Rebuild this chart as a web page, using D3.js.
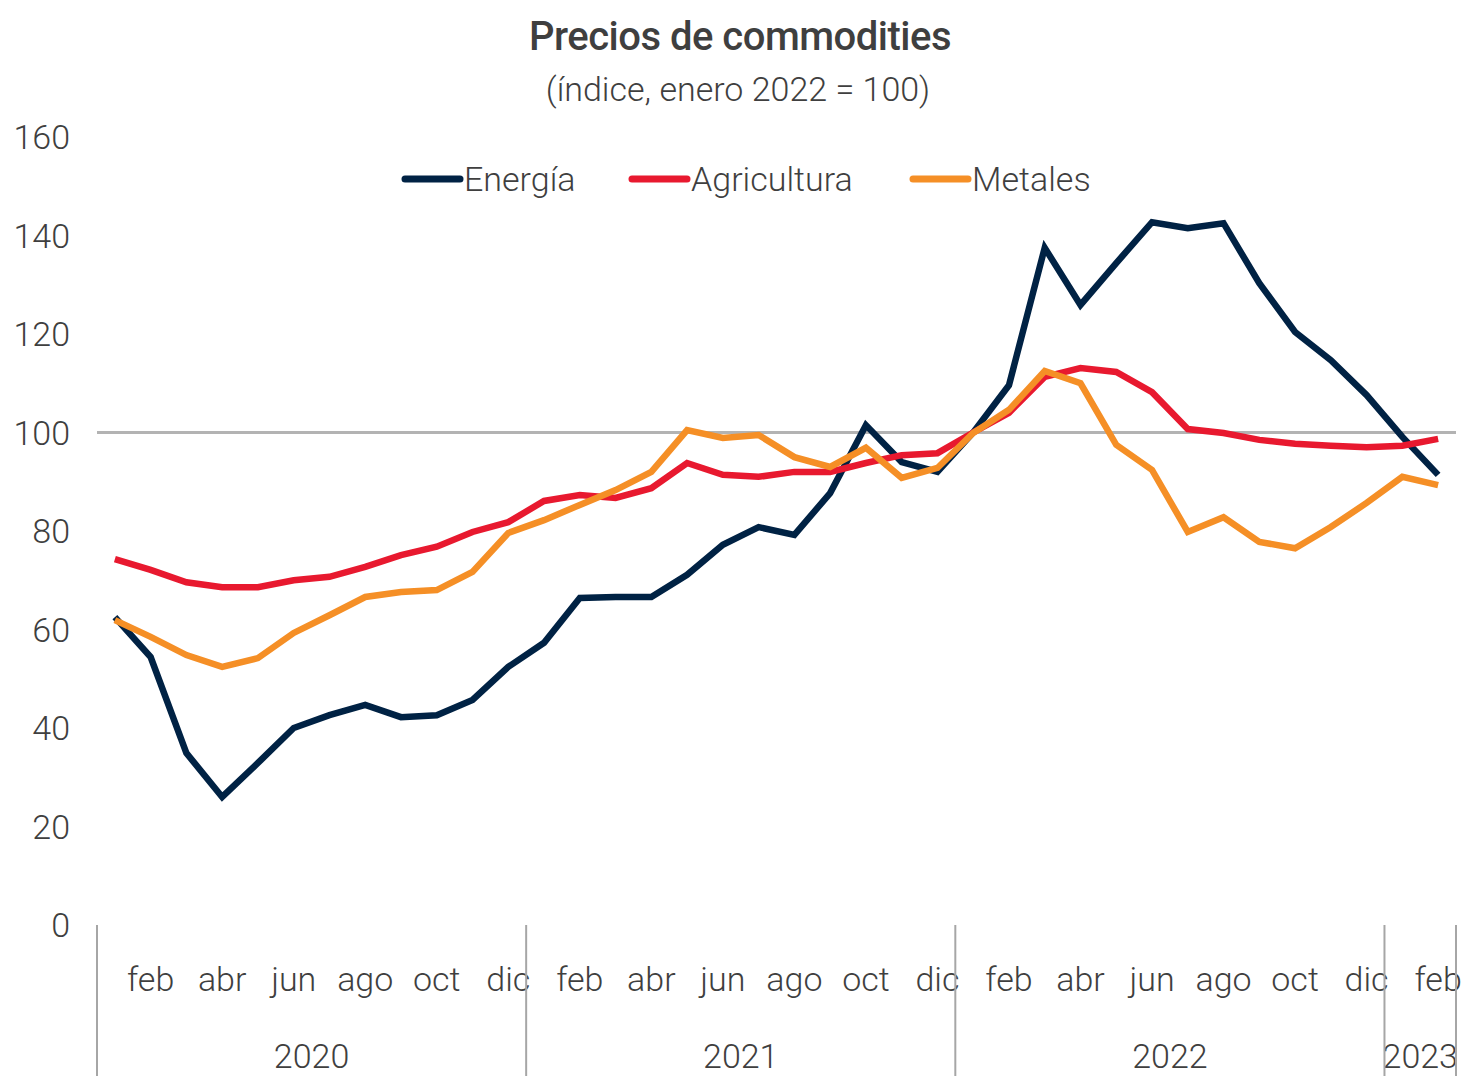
<!DOCTYPE html>
<html>
<head>
<meta charset="utf-8">
<script src="https://cdn.jsdelivr.net/npm/d3@7"></script>
<style>
  body { margin: 0; background: #fff; }
  text { font-family: "Roboto", sans-serif; font-weight: 300; fill: #3f3f3f; }
</style>
</head>
<body>
<div id="chart"></div>
<script>
(function() {
  'use strict';

  // monthly, jan 2020 .. feb 2023
  var monthNames = ['ene', 'feb', 'mar', 'abr', 'may', 'jun', 'jul', 'ago', 'sep', 'oct', 'nov', 'dic'];
  var years = ['2020', '2021', '2022', '2023'];
  var yTicks = [0, 20, 40, 60, 80, 100, 120, 140, 160];

  var energia = [62.5, 54.4, 34.9, 26.0, 32.9, 40.0, 42.6, 44.7, 42.2, 42.6, 45.7, 52.4,
    57.3, 66.4, 66.6, 66.6, 71.1, 77.2, 80.8, 79.2, 87.7, 101.5, 94.0, 92.0,
    100.0, 109.6, 137.5, 125.9, 134.4, 142.7, 141.5, 142.5, 130.3, 120.4, 114.7, 107.6,
    99.1, 91.4];
  var agricultura = [74.3, 72.1, 69.6, 68.6, 68.6, 70.0, 70.7, 72.7, 75.1, 76.8, 79.8, 81.8,
    86.1, 87.3, 86.7, 88.7, 93.8, 91.4, 91.0, 92.0, 92.0, 93.8, 95.4, 95.8,
    100.0, 104.0, 111.3, 113.1, 112.3, 108.2, 100.7, 99.9, 98.5, 97.7, 97.3, 97.0,
    97.3, 98.7];
  var metales = [61.9, 58.5, 54.8, 52.4, 54.2, 59.3, 62.9, 66.6, 67.6, 68.0, 71.7, 79.6,
    82.2, 85.3, 88.3, 92.0, 100.5, 98.9, 99.5, 95.0, 93.0, 96.9, 90.8, 92.8,
    99.9, 104.6, 112.5, 110.0, 97.5, 92.4, 79.8, 82.8, 77.8, 76.5, 80.8, 85.7,
    91.0, 89.3];

  var series = [
    { name: 'Energía', values: energia, color: '#002244' },
    { name: 'Agricultura', values: agricultura, color: '#e8192f' },
    { name: 'Metales', values: metales, color: '#f58f26' }
  ];

  var width = 1482, height = 1076;
  var left = 97, right = 1456, top = 137, bottom = 925;

  var months = d3.range(energia.length);

  var x = d3.scaleBand()
    .domain(months)
    .range([left, right]);

  var y = d3.scaleLinear()
    .domain([0, 160])
    .range([bottom, top]);

  var svg = d3.select('#chart')
    .append('svg')
    .attr('width', width)
    .attr('height', height);

  // title
  svg.append('text')
    .attr('x', 740).attr('y', 50)
    .attr('text-anchor', 'middle')
    .style('font-size', '40px')
    .style('font-weight', '500')
    .style('letter-spacing', '-0.5px')
    .text('Precios de commodities');

  svg.append('text')
    .attr('x', 738).attr('y', 101)
    .attr('text-anchor', 'middle')
    .style('font-size', '34px')
    .text('(índice, enero 2022 = 100)');

  // y labels
  svg.selectAll('.ylab')
    .data(yTicks)
    .enter().append('text')
    .attr('class', 'ylab')
    .attr('x', 70)
    .attr('y', function(d) { return y(d) + 12; })
    .attr('text-anchor', 'end')
    .style('font-size', '34px')
    .text(function(d) { return d; });

  // reference line at 100
  svg.append('line')
    .attr('x1', left).attr('x2', right)
    .attr('y1', y(100)).attr('y2', y(100))
    .style('stroke', '#b3b3b3')
    .style('stroke-width', 3);

  // month labels (even months)
  svg.selectAll('.mlab')
    .data(months.filter(function(i) { return i % 2 === 1; }))
    .enter().append('text')
    .attr('class', 'mlab')
    .attr('x', function(i) { return x(i) + x.bandwidth() / 2; })
    .attr('y', 991)
    .attr('text-anchor', 'middle')
    .style('font-size', '34px')
    .text(function(i) { return monthNames[i % 12]; });

  // year labels
  years.forEach(function(yr, k) {
    var first = k * 12;
    var last = Math.min(first + 11, months.length - 1);
    var cx = (x(first) + x(last) + x.bandwidth()) / 2;
    svg.append('text')
      .attr('x', cx)
      .attr('y', 1068)
      .attr('text-anchor', 'middle')
      .style('font-size', '34px')
      .text(yr);
  });

  // year separators
  var seps = [0, 12, 24, 36].map(function(i) { return x(i); }).concat([right]);
  svg.selectAll('.sep')
    .data(seps)
    .enter().append('line')
    .attr('class', 'sep')
    .attr('x1', function(d) { return d; })
    .attr('x2', function(d) { return d; })
    .attr('y1', bottom)
    .attr('y2', height)
    .style('stroke', '#a6a6a6')
    .style('stroke-width', 2);

  // lines
  var line = d3.line()
    .x(function(d, i) { return x(i) + x.bandwidth() / 2; })
    .y(function(d) { return y(d); });

  svg.selectAll('.series')
    .data(series)
    .enter().append('path')
    .attr('class', 'series')
    .attr('d', function(s) { return line(s.values); })
    .style('fill', 'none')
    .style('stroke', function(s) { return s.color; })
    .style('stroke-width', 6.5)
    .style('stroke-linejoin', 'miter');

  // legend
  var legendX = [405, 632, 913];
  var lg = svg.selectAll('.legend')
    .data(series)
    .enter().append('g')
    .attr('class', 'legend')
    .attr('transform', function(d, i) { return 'translate(' + legendX[i] + ',179)'; });

  lg.append('line')
    .attr('x1', 0).attr('x2', 55)
    .style('stroke', function(d) { return d.color; })
    .style('stroke-width', 7)
    .style('stroke-linecap', 'round');

  lg.append('text')
    .attr('x', 59)
    .attr('y', 12)
    .style('font-size', '34px')
    .text(function(d) { return d.name; });
})();
</script>
</body>
</html>
